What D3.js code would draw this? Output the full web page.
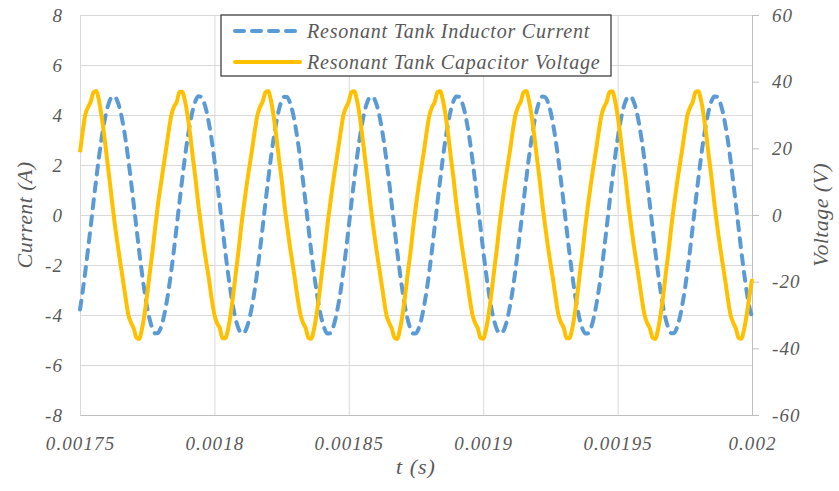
<!DOCTYPE html>
<html>
<head>
<meta charset="utf-8">
<script src="https://cdn.jsdelivr.net/npm/d3@7"></script>
<style>
	body { margin: 0; background: #fff; }
</style>
</head>
<body>
<div id="chart"></div>
<script>
// samples are 1 us apart, starting at t = 1750 us
const tStartUs = 1750;
const tStepUs = 1;

// inductor current, A (left axis)
const inductorCurrent = [
	-3.78, -3.05, -2.24, -1.36, -0.44, 0.50, 1.40, 2.27, 3.04, 3.69, 4.21, 4.56, 4.74, 4.72, 4.53, 4.17, 3.64, 2.98, 2.20, 1.33, 0.42, -0.51, -1.43, -2.28, -3.05, -3.71, -4.21, -4.56, -4.73, -4.72, -4.53, -4.16,
	-3.63, -2.98, -2.20, -1.35, -0.43, 0.51, 1.41, 2.28, 3.05, 3.70, 4.22, 4.57, 4.75, 4.73, 4.54, 4.18, 3.65, 2.99, 2.21, 1.34, 0.43, -0.50, -1.42, -2.27, -3.04, -3.70, -4.20, -4.55, -4.72, -4.71, -4.52, -4.15,
	-3.64, -3.00, -2.22, -1.36, -0.44, 0.50, 1.40, 2.27, 3.04, 3.69, 4.21, 4.56, 4.73, 4.72, 4.53, 4.17, 3.64, 2.98, 2.20, 1.33, 0.42, -0.51, -1.43, -2.28, -3.05, -3.71, -4.21, -4.56, -4.74, -4.73, -4.54, -4.17,
	-3.65, -3.01, -2.23, -1.37, -0.45, 0.49, 1.39, 2.26, 3.03, 3.68, 4.20, 4.55, 4.72, 4.71, 4.52, 4.16, 3.63, 2.97, 2.19, 1.32, 0.41, -0.52, -1.44, -2.29, -3.06, -3.72, -4.22, -4.57, -4.74, -4.73, -4.54, -4.17,
	-3.64, -2.99, -2.21, -1.35, -0.43, 0.51, 1.41, 2.28, 3.05, 3.70, 4.22, 4.57, 4.74, 4.73, 4.54, 4.18, 3.65, 2.99, 2.21, 1.34, 0.43, -0.50, -1.42, -2.27, -3.04, -3.70, -4.20, -4.55, -4.72, -4.71, -4.52, -4.15,
	-3.62, -2.98, -2.20, -1.34, -0.42, 0.52, 1.42, 2.29, 3.06, 3.71, 4.22, 4.57, 4.74, 4.72, 4.53, 4.16, 3.63, 2.97, 2.19, 1.32, 0.41, -0.52, -1.44, -2.29, -3.06, -3.72, -4.22, -4.57, -4.74, -4.73, -4.54, -4.17,
	-3.64, -3.00, -2.22, -1.36, -0.44, 0.50, 1.40, 2.27, 3.04, 3.69, 4.21, 4.56, 4.73, 4.72, 4.53, 4.17, 3.64, 2.98, 2.20, 1.33, 0.42, -0.51, -1.43, -2.28, -3.05, -3.71, -4.21, -4.56, -4.73, -4.72, -4.53, -4.16,
	-3.63, -2.99, -2.21, -1.35, -0.43, 0.51, 1.41, 2.28, 3.05, 3.70, 4.22, 4.57, 4.74, 4.73, 4.54, 4.18, 3.65, 2.99, 2.21, 1.34, 0.43, -0.50, -1.42, -2.27, -3.05, -3.68, -4.05
];

// capacitor voltage, V (right axis)
const capacitorVoltage = [
	18.8, 25.0, 30.2, 32.3, 34.0, 36.8, 37.2, 34.6, 29.8, 23.9, 17.2, 10.6, 3.5, -3.1, -8.8, -14.4, -19.6, -25.0, -30.0, -32.3, -34.1, -36.8, -37.2, -34.4, -29.8, -23.8, -17.0, -10.8, -3.5, 3.1, 8.8, 14.2,
	19.6, 25.2, 30.0, 32.5, 33.9, 36.9, 37.0, 34.4, 30.0, 24.0, 17.1, 10.7, 3.3, -3.0, -9.0, -14.3, -19.4, -25.2, -29.9, -32.5, -33.9, -37.0, -37.0, -34.6, -30.0, -23.9, -17.2, -10.6, -3.3, 3.0, 9.0, 14.4,
	19.5, 25.1, 29.9, 32.4, 34.1, 36.8, 37.2, 34.5, 29.9, 23.8, 17.0, 10.8, 3.4, -2.9, -8.9, -14.2, -19.5, -25.1, -29.8, -32.4, -34.0, -36.9, -37.1, -34.5, -29.9, -24.0, -17.1, -10.7, -3.4, 2.9, 8.9, 14.3,
	19.6, 25.0, 30.0, 32.3, 34.0, 36.9, 37.1, 34.6, 30.0, 23.9, 17.2, 10.6, 3.5, -3.0, -8.8, -14.3, -19.6, -25.0, -30.0, -32.3, -34.1, -36.8, -37.2, -34.4, -29.8, -23.9, -17.0, -10.8, -3.5, 3.0, 8.8, 14.2,
	19.4, 25.1, 29.9, 32.4, 33.9, 36.9, 37.1, 34.5, 29.9, 23.9, 17.1, 10.7, 3.4, -3.0, -8.9, -14.3, -19.5, -25.1, -29.9, -32.4, -34.0, -36.9, -37.1, -34.5, -29.9, -23.9, -17.1, -10.7, -3.4, 3.0, 8.9, 14.3,
	19.5, 25.2, 30.0, 32.5, 34.0, 36.8, 37.2, 34.4, 29.8, 23.8, 17.0, 10.6, 3.3, -3.1, -9.0, -14.4, -19.4, -25.0, -30.0, -32.3, -33.9, -37.0, -37.0, -34.6, -30.0, -24.0, -17.2, -10.8, -3.4, 3.1, 9.0, 14.4,
	19.6, 25.1, 29.9, 32.4, 34.1, 36.9, 37.1, 34.5, 29.9, 23.9, 17.1, 10.7, 3.4, -3.0, -8.9, -14.2, -19.5, -25.1, -29.9, -32.4, -34.0, -36.8, -37.2, -34.5, -29.9, -23.9, -17.1, -10.7, -3.4, 3.0, 8.9, 14.3,
	19.5, 25.0, 30.0, 32.3, 34.0, 36.9, 37.1, 34.6, 30.0, 24.0, 17.2, 10.8, 3.5, -2.9, -8.8, -14.2, -19.4, -25.0, -29.9, -32.3, -34.0, -36.9, -37.1, -34.6, -30.1, -24.6, -19.2
];

const xTicks = [0.00175, 0.0018, 0.00185, 0.0019, 0.00195, 0.002];
const xTickLabels = ['0.00175', '0.0018', '0.00185', '0.0019', '0.00195', '0.002'];
const currentTicks = [-8, -6, -4, -2, 0, 2, 4, 6, 8];
const voltageTicks = [-60, -40, -20, 0, 20, 40, 60];
const seriesNames = ['Resonant Tank Inductor Current', 'Resonant Tank Capacitor Voltage'];
const colours = ['#5b9bd5', '#ffc000'];

const textColour = '#595959';

const width = 839;
const height = 491;
const margin = { top: 15, right: 87, bottom: 76, left: 80 };

const svg = d3.select('#chart')
	.append('svg')
	.attr('width', width)
	.attr('height', height);

const x = d3.scaleLinear()
	.domain([xTicks[0], xTicks[xTicks.length - 1]])
	.range([margin.left, width - margin.right]);

const yCurrent = d3.scaleLinear()
	.domain([-8, 8])
	.range([height - margin.bottom, margin.top]);

const yVoltage = d3.scaleLinear()
	.domain([-60, 60])
	.range([height - margin.bottom, margin.top]);

const tAt = i => (tStartUs + i * tStepUs) / 1e6;

// same look for every piece of text (the original is a little wide, hence the spacing)
const styleText = (sel, size, spacing) => sel
	.attr('font-family', 'Liberation Serif')
	.attr('font-style', 'italic')
	.attr('font-size', size)
	.attr('letter-spacing', spacing)
	.attr('fill', textColour);

// gridlines
svg.append('g')
	.attr('class', 'gridline')
	.attr('transform', `translate(${margin.left},0)`)
	.call(d3.axisLeft(yCurrent)
		.tickValues(currentTicks)
		.tickSize(-(width - margin.left - margin.right))
		.tickFormat('')
	)
	.call(g => g.select('.domain').remove())
	.call(g => g.selectAll('line').attr('stroke', '#d9d9d9'));

svg.append('g')
	.attr('class', 'gridline')
	.attr('transform', `translate(0,${margin.top})`)
	.call(d3.axisBottom(x)
		.tickValues(xTicks)
		.tickSize(height - margin.top - margin.bottom)
		.tickFormat('')
	)
	.call(g => g.select('.domain').remove())
	.call(g => g.selectAll('line').attr('stroke', '#d9d9d9'));

// axes
svg.append('g')
	.attr('transform', `translate(0,${height - margin.bottom})`)
	.call(d3.axisBottom(x)
		.tickValues(xTicks)
		.tickSize(0)
		.tickPadding(22)
		.tickFormat((d, i) => xTickLabels[i])
	)
	.call(g => g.select('.domain').attr('stroke', '#bfbfbf'))
	.call(g => styleText(g.selectAll('text'), 19, 1.1));

svg.append('g')
	.attr('transform', `translate(${margin.left},0)`)
	.call(d3.axisLeft(yCurrent)
		.tickValues(currentTicks)
		.tickSize(0)
		.tickPadding(17)
		.tickFormat(d => `${d}`)
	)
	.call(g => g.select('.domain').remove())
	.call(g => styleText(g.selectAll('text'), 19, 1.1));

svg.append('g')
	.attr('transform', `translate(${width - margin.right},0)`)
	.call(d3.axisRight(yVoltage)
		.tickValues(voltageTicks)
		.tickSize(7)
		.tickPadding(13)
		.tickSizeOuter(0)
		.tickFormat(d => `${d}`)
	)
	.call(g => g.selectAll('line, .domain').attr('stroke', '#bfbfbf'))
	.call(g => styleText(g.selectAll('text'), 19, 1.1));

// axis titles
svg.append('text')
	.attr('transform', `translate(32,${yCurrent(0)}) rotate(-90)`)
	.attr('text-anchor', 'middle')
	.call(styleText, 22, 0.4)
	.text('Current (A)');

svg.append('text')
	.attr('transform', `translate(828,${yVoltage(0)}) rotate(-90)`)
	.attr('text-anchor', 'middle')
	.call(styleText, 22, 0.4)
	.text('Voltage (V)');

svg.append('text')
	.attr('x', (margin.left + width - margin.right) / 2)
	.attr('y', 474)
	.attr('text-anchor', 'middle')
	.call(styleText, 22, 1)
	.text('t (s)');

// the two waveforms
const currentLine = d3.line()
	.x((d, i) => x(tAt(i)))
	.y(d => yCurrent(d))
	.curve(d3.curveMonotoneX);

const voltageLine = d3.line()
	.x((d, i) => x(tAt(i)))
	.y(d => yVoltage(d))
	.curve(d3.curveMonotoneX);

svg.append('path')
	.datum(inductorCurrent)
	.attr('fill', 'none')
	.attr('stroke', colours[0])
	.attr('stroke-width', 4)
	.attr('stroke-linecap', 'round')
	.attr('stroke-dasharray', '9 8')
	.attr('d', currentLine);

svg.append('path')
	.datum(capacitorVoltage)
	.attr('fill', 'none')
	.attr('stroke', colours[1])
	.attr('stroke-width', 4)
	.attr('stroke-linejoin', 'round')
	.attr('d', voltageLine);

// legend
const legend = svg.append('g')
	.attr('transform', 'translate(221,15)');

legend.append('rect')
	.attr('width', 390)
	.attr('height', 61)
	.attr('fill', '#fff')
	.attr('stroke', '#404040')
	.attr('stroke-width', 1.3);

seriesNames.forEach((name, i) => {
	const row = legend.append('g')
		.attr('transform', `translate(0,${16 + i * 31})`);

	row.append('line')
		.attr('x1', 14)
		.attr('x2', 79)
		.attr('stroke', colours[i])
		.attr('stroke-width', 4)
		.attr('stroke-linecap', 'round')
		.attr('stroke-dasharray', i === 0 ? '9 8' : null);

	row.append('text')
		.attr('x', 86)
		.attr('y', 7)
		.call(styleText, 20, 0.8)
		.text(name);
});
</script>
</body>
</html>
